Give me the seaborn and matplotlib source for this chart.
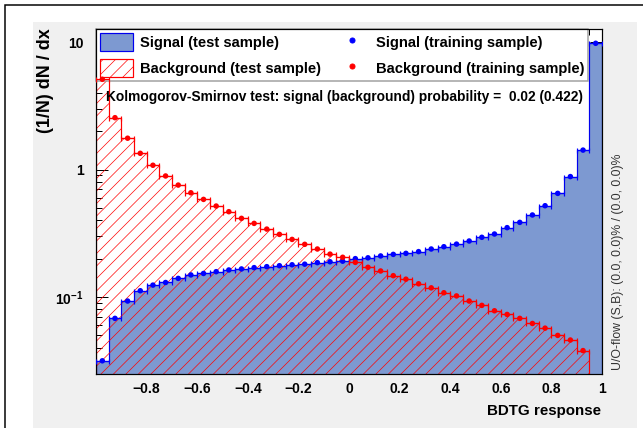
import numpy as np
import pandas as pd
import matplotlib
matplotlib.use('Agg')
import matplotlib.pyplot as plt
import seaborn as sns
from matplotlib.patches import Patch, Rectangle
from matplotlib.lines import Line2D
from matplotlib.ticker import FixedLocator, FixedFormatter, MultipleLocator, LogLocator, NullFormatter

# binning of the BDTG response: 40 bins between -1 and 1
bin_edges = np.linspace(-1.0, 1.0, 41)

# (1/N) dN/dx per bin (test histogram and training points coincide)
signal = [0.0316, 0.068, 0.093, 0.112, 0.124, 0.130, 0.140, 0.149, 0.153, 0.158,
          0.163, 0.166, 0.170, 0.173, 0.176, 0.179, 0.181, 0.186, 0.189, 0.191,
          0.200, 0.203, 0.210, 0.216, 0.220, 0.227, 0.238, 0.248, 0.260, 0.275,
          0.294, 0.312, 0.350, 0.385, 0.440, 0.520, 0.650, 0.880, 1.420, 9.77]
background = [5.10, 2.55, 1.76, 1.34, 1.08, 0.890, 0.755, 0.657, 0.583, 0.517,
              0.467, 0.414, 0.378, 0.341, 0.310, 0.283, 0.259, 0.238, 0.217, 0.205,
              0.187, 0.171, 0.160, 0.147, 0.138, 0.127, 0.118, 0.108, 0.102, 0.093,
              0.086, 0.078, 0.073, 0.068, 0.062, 0.057, 0.050, 0.046, 0.038, 0.0]

x_tick_values = [-0.8, -0.6, -0.4, -0.2, 0.0, 0.2, 0.4, 0.6, 0.8, 1.0]
x_tick_labels = ['\u22120.8', '\u22120.6', '\u22120.4', '\u22120.2', '0', '0.2', '0.4', '0.6', '0.8', '1']
y_tick_values = [0.1, 1, 10]
y_tick_labels = [r'$10^{-1}$', '1', '10']

ks_text = 'Kolmogorov-Smirnov test: signal (background) probability =  0.02 (0.422)'
flow_text = 'U/O-flow (S,B): (0.0, 0.0)% / (0.0, 0.0)%'

sig_fill = '#7d99d1'
sig_line = '#0000ee'
bkg_line = '#ff0000'

W, H, DPI = 643, 428, 75


def px(v):
    # pixel size -> points at this dpi
    return v * 72 / DPI


sns.set_style('ticks')
plt.rcParams['font.family'] = ['Liberation Sans', 'DejaVu Sans']
plt.rcParams['mathtext.fontset'] = 'custom'
plt.rcParams['mathtext.rm'] = 'Liberation Sans:bold'
plt.rcParams['mathtext.default'] = 'rm'
plt.rcParams['hatch.color'] = '#ff3c3c'
plt.rcParams['hatch.linewidth'] = 0.65
for key in ['text.color', 'axes.labelcolor', 'xtick.color', 'ytick.color', 'axes.edgecolor']:
    plt.rcParams[key] = 'black'

centers = (bin_edges[:-1] + bin_edges[1:]) / 2
df = pd.DataFrame({'response': centers, 'signal': signal, 'background': background})
edges = bin_edges.tolist()

fig = plt.figure(figsize=(W / DPI, H / DPI), dpi=DPI)
fig.patch.set_facecolor('white')
# canvas frame and grey pad
fig.patches.append(Rectangle((4.5 / W, -0.1), 1.2, 1 - 5.5 / H + 0.1, transform=fig.transFigure,
                             fill=False, edgecolor='black', linewidth=px(1.5), zorder=-2))
fig.patches.append(Rectangle((33 / W, -0.1), (637 - 33) / W, 1 - 22 / H + 0.1, transform=fig.transFigure,
                             facecolor='#f0f0f0', edgecolor='none', zorder=-1))

ax = fig.add_axes([96 / W, 1 - 374 / H, 506 / W, (374 - 29) / H])
ax.set_facecolor('white')

# test samples as histograms
sns.histplot(x=df['response'], weights=df['signal'], bins=edges, element='step', fill=True,
             color=sig_fill, facecolor=sig_fill, edgecolor=sig_line, linewidth=px(1.2), ax=ax)
sns.histplot(x=df['response'], weights=df['background'], bins=edges, element='step', fill=True,
             color=bkg_line, facecolor='none', edgecolor=bkg_line, hatch='//', linewidth=px(1.2), ax=ax)

# training samples as points with bin-width bars
for col, c in [('signal', 'blue'), ('background', 'red')]:
    sub = df[df[col] > 0]
    ax.errorbar(sub['response'], sub[col], xerr=0.025, fmt='none', ecolor=c,
                elinewidth=px(1.2), capsize=px(2.5), capthick=px(1.2), zorder=3)
    sns.scatterplot(data=sub, x='response', y=col, color=c, s=px(5.5) ** 2,
                    edgecolor='none', zorder=4, ax=ax)

ax.set_yscale('log')
ax.set_xlim(-1, 1)
ax.set_ylim(0.0249, 12.65)
ax.set_xlabel('')
ax.set_ylabel('')

ax.xaxis.set_major_locator(FixedLocator(x_tick_values))
ax.xaxis.set_major_formatter(FixedFormatter(x_tick_labels))
ax.xaxis.set_minor_locator(MultipleLocator(0.05))
ax.yaxis.set_major_locator(FixedLocator(y_tick_values))
ax.yaxis.set_major_formatter(FixedFormatter(y_tick_labels))
ax.yaxis.set_minor_locator(LogLocator(base=10, subs=np.arange(2, 10)))
ax.yaxis.set_minor_formatter(NullFormatter())

ax.tick_params(which='both', direction='in', top=True, right=True, color='black', width=px(1))
ax.tick_params(which='major', length=px(12))
ax.tick_params(which='minor', length=px(6))
ax.tick_params(axis='x', which='major', labelsize=px(14), pad=px(8))
ax.tick_params(axis='y', which='major', labelsize=px(14), pad=px(12))
for lab in ax.get_xticklabels() + ax.get_yticklabels():
    lab.set_fontweight('bold')
for s in ax.spines.values():
    s.set_linewidth(px(1.2))
    s.set_color('black')

handles = [
    Patch(facecolor=sig_fill, edgecolor=sig_line, linewidth=px(1.2), label='Signal (test sample)'),
    Patch(facecolor='none', edgecolor=bkg_line, hatch='//', linewidth=px(1.2), label='Background (test sample)'),
    Line2D([], [], color='blue', marker='o', ms=px(5), linestyle='none', label='Signal (training sample)'),
    Line2D([], [], color='red', marker='o', ms=px(5), linestyle='none', label='Background (training sample)'),
]
leg = ax.legend(handles=handles, ncol=2, loc='upper left', bbox_to_anchor=(0, 1, 492 / 506, 0),
                mode='expand', borderaxespad=0, prop={'weight': 'bold', 'size': px(14.8)},
                handlelength=2.25, handleheight=1.55, handletextpad=0.45, labelspacing=0.52,
                borderpad=0.25, fancybox=False, framealpha=1, facecolor='white', edgecolor='#a0a0a0')
leg.get_frame().set_linewidth(px(1.5))
leg.set_zorder(2.3)

fig.text(106 / W, 1 - 97 / H, ks_text, ha='left', va='center', fontsize=px(13.8), fontweight='bold')
fig.text(45 / W, 1 - 28 / H, '(1/N) dN / dx', rotation=90, ha='center', va='top',
         fontsize=px(18), fontweight='bold')
fig.text(601 / W, 1 - 411 / H, 'BDTG response', ha='right', va='center',
         fontsize=px(15.2), fontweight='bold')
fig.text(618 / W, 1 - 262 / H, flow_text, rotation=90, ha='center', va='center',
         fontsize=px(12.3), color='#333333')

fig.savefig('out.png', dpi=DPI, facecolor='white')
